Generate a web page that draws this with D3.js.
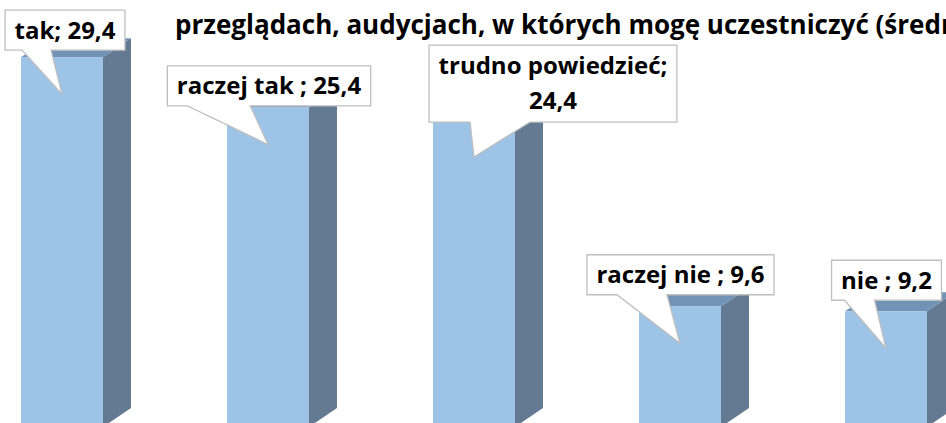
<!DOCTYPE html>
<html lang="pl">
<head>
<meta charset="UTF-8">
<script src="https://d3js.org/d3.v7.min.js"></script>
<style>
  body { margin: 0; background: #fff; }
  svg { display: block; }
  text { font-family: "Open Sans", Lato, sans-serif; font-weight: bold; fill: #000; }
</style>
</head>
<body>
<div id="wykres"></div>
<script>
// dane
const kategorie = ["tak", "raczej tak ", "trudno powiedzieć", "raczej nie ", "nie "];
const wartosci = [29.4, 25.4, 24.4, 9.6, 9.2];
const etykiety = [["tak; 29,4"], ["raczej tak ; 25,4"], ["trudno powiedzieć;", "24,4"], ["raczej nie ; 9,6"], ["nie ; 9,2"]];
const tytul = "przeglądach, audycjach, w których mogę uczestniczyć (średnio)";

// rozmieszczenie dymków: srodek ramki wzgledem szczytu slupka, podstawa ogonka wzgledem lewej krawedzi ramki
const dymki = [
  { dx: 3, dy: -27, ogon: [17, 46] },
  { dx: 1, dy: -21.5, ogon: [20, 83] },
  { dx: 79, dy: -36.5, ogon: [41, 101] },
  { dx: 0.5, dy: -31.5, ogon: [30, 80] },
  { dx: 0.5, dy: -31, ogon: [13, 43] }
];

const W = 946, H = 423;
const glebX = 28, glebY = 19;

const svg = d3.select("#wykres").append("svg")
  .attr("width", W).attr("height", H);

const x = d3.scaleBand().domain(kategorie)
  .range([-41, 989]).paddingInner(0.602).paddingOuter(0.301);
const y = d3.scaleLinear().domain([0, 30]).range([427, 427 - 30 * 12.58]);

const bw = x.bandwidth();

const slupki = svg.append("g").selectAll("g").data(kategorie).join("g");

// bok
slupki.append("path")
  .attr("fill", "#637a92")
  .attr("d", (d, i) => {
    const x1 = x(d) + bw, t = y(wartosci[i]), b = y(0);
    return `M${x1},${b}L${x1},${t}L${x1 + glebX},${t - glebY}L${x1 + glebX},${b - glebY}Z`;
  });
// gora
slupki.append("path")
  .attr("fill", "#7393b6")
  .attr("d", (d, i) => {
    const x0 = x(d), t = y(wartosci[i]);
    return `M${x0},${t}L${x0 + bw},${t}L${x0 + bw + glebX},${t - glebY}L${x0 + glebX},${t - glebY}Z`;
  });
// przod
slupki.append("rect")
  .attr("fill", "#9dc3e6")
  .attr("x", d => x(d)).attr("width", bw)
  .attr("y", (d, i) => y(wartosci[i]))
  .attr("height", (d, i) => y(0) - y(wartosci[i]));

// tytul
svg.append("text")
  .attr("x", 175).attr("y", 34)
  .style("font-size", "26px")
  .text(tytul);

// dymki z etykietami
const fs = 24;
kategorie.forEach((k, i) => {
  const cx = x(k) + bw / 2, ty = y(wartosci[i]);
  const l = dymki[i];
  const g = svg.append("g");
  const linie = etykiety[i];
  const lh = 35;
  const teksty = linie.map((s, j) => g.append("text")
    .attr("text-anchor", "middle")
    .style("font-size", fs + "px")
    .text(s));
  const szer = d3.max(teksty, t => t.node().getComputedTextLength()) + 19;
  const wys = 40 + (linie.length - 1) * 37;
  const bx = cx + l.dx - szer / 2, by = ty + l.dy - wys / 2;
  const tipX = cx, tipY = ty + 37;
  const p = `M${bx},${by}H${bx + szer}V${by + wys}H${bx + l.ogon[1]}L${tipX},${tipY}L${bx + l.ogon[0]},${by + wys}H${bx}Z`;
  g.insert("path", "text")
    .attr("d", p)
    .attr("fill", "#fff")
    .attr("stroke", "#bfbfbf")
    .attr("stroke-width", 1.3);
  const y0 = ty + l.dy - (linie.length - 1) * lh / 2;
  teksty.forEach((t, j) => t
    .attr("x", cx + l.dx)
    .attr("y", y0 + j * lh)
    .attr("dy", "0.35em"));
});
</script>
</body>
</html>
